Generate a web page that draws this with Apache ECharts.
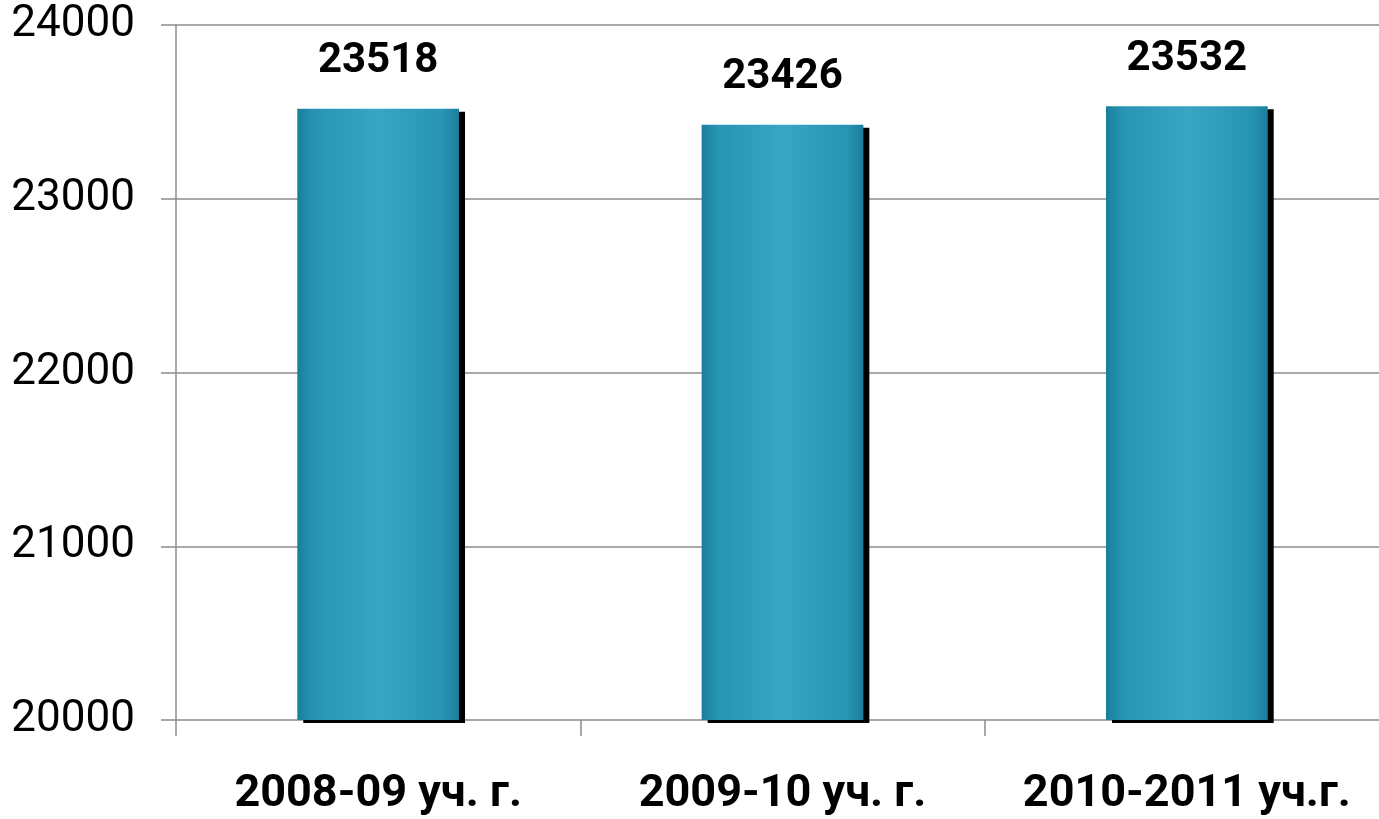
<!DOCTYPE html>
<html>
<head>
<meta charset="utf-8">
<script src="https://cdn.jsdelivr.net/npm/echarts@6/dist/echarts.min.js"></script>
<style>
html,body{margin:0;padding:0;background:#fff;}
#chart{width:1379px;height:819px;}
</style>
</head>
<body>
<div id="chart"></div>
<script>
var categories = ['2008-09 уч. г.', '2009-10 уч. г.', '2010-2011 уч.г.'];
var values = [23518, 23426, 23532];
var yMin = 20000, yMax = 24000, yStep = 1000;

var chart = echarts.init(document.getElementById('chart'));
chart.setOption({
  animation: false,
  grid: {left: 176, width: 1213, top: 25, bottom: 99, containLabel: false, outerBoundsMode: 'none'},
  xAxis: {
    type: 'category',
    data: categories,
    axisLine: {show: false},
    axisTick: {show: true, interval: 0, alignWithLabel: false, length: 16, lineStyle: {color: '#8c8c8c', width: 1.5}},
    axisLabel: {interval: 0, color: '#000', fontFamily: 'Roboto', fontWeight: 'bold', fontSize: 45, margin: 52}
  },
  yAxis: {
    type: 'value',
    min: yMin, max: yMax, interval: yStep,
    axisLine: {show: true, lineStyle: {color: '#8c8c8c', width: 1.5}},
    axisTick: {show: true, length: 15, lineStyle: {color: '#8c8c8c', width: 1.5}},
    splitLine: {show: true, lineStyle: {color: '#8c8c8c', width: 1.5}},
    axisLabel: {color: '#000', fontFamily: 'Roboto', fontSize: 44, margin: 41, padding: [8, 0, 0, 0],
      formatter: function (v) { return String(v); }}
  },
  series: [{
    type: 'bar',
    data: values,
    barWidth: '40%',
    itemStyle: {
      color: {
        type: 'linear', x: 0, y: 0, x2: 1, y2: 0,
        colorStops: [
          {offset: 0, color: '#1a7f9b'},
          {offset: 0.1, color: '#2794b3'},
          {offset: 0.5, color: '#38a5c5'},
          {offset: 0.9, color: '#2794b3'},
          {offset: 1, color: '#1a7f9b'}
        ]
      },
      shadowColor: '#000',
      shadowOffsetX: 6,
      shadowOffsetY: 3,
      shadowBlur: 0
    },
    label: {
      show: true, position: 'top', distance: 26,
      color: '#000', fontFamily: 'Roboto', fontWeight: 'bold', fontSize: 42
    }
  }]
});
</script>
</body>
</html>
